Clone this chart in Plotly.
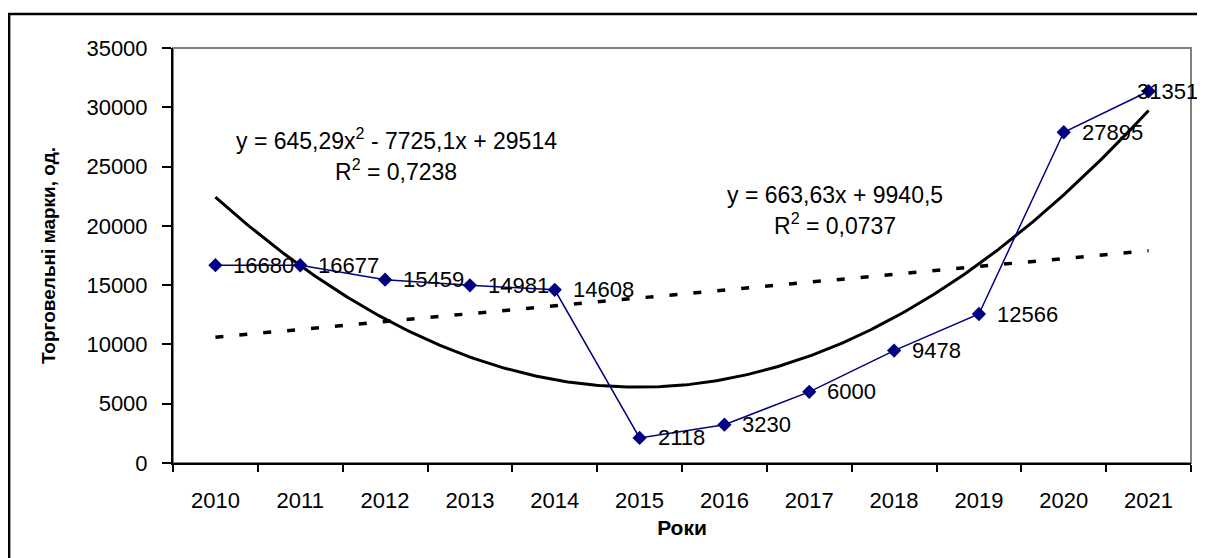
import numpy as np
import plotly.graph_objects as go

years = ["2010", "2011", "2012", "2013", "2014", "2015", "2016", "2017", "2018", "2019", "2020", "2021"]
values = [16680, 16677, 15459, 14981, 14608, 2118, 3230, 6000, 9478, 12566, 27895, 31351]
poly_label = ["y = 645,29x<sup>2</sup> - 7725,1x + 29514", "R<sup>2</sup> = 0,7238"]
lin_label = ["y = 663,63x + 9940,5", "R<sup>2</sup> = 0,0737"]

FONT = "Liberation Sans, Arial, sans-serif"
x = np.arange(1, len(values) + 1)
xf = np.linspace(1, len(values), 300)
p2 = np.polyfit(x, values, 2)
p1 = np.polyfit(x, values, 1)

fig = go.Figure()
fig.add_trace(go.Scatter(x=xf, y=np.polyval(p2, xf), mode="lines",
                         line=dict(color="black", width=3), hoverinfo="skip"))
fig.add_trace(go.Scatter(x=xf, y=np.polyval(p1, xf), mode="lines",
                         line=dict(color="black", width=3.5, dash="8px,16px"), hoverinfo="skip"))
fig.add_trace(go.Scatter(x=x, y=values, mode="lines+markers",
                         line=dict(color="#000080", width=1.5),
                         marker=dict(symbol="diamond", size=11, color="#000080")))

# data labels to the right of each point (last one pulled back to stay in frame)
for i, v in enumerate(values):
    last = i == len(values) - 1
    fig.add_annotation(x=x[i], y=v, text=str(v), showarrow=False, xanchor="left",
                       xshift=-14 if last else 16,
                       font=dict(family=FONT, size=22, color="black"))

# plot-area border (gray) and outer chart frame
fig.add_shape(type="rect", xref="paper", yref="paper", x0=0, x1=1, y0=0, y1=1,
              line=dict(color="#808080", width=2), layer="below")
fig.add_shape(type="rect", xref="paper", yref="paper", x0=-0.161, x1=1.2, y0=-0.4, y1=1.082,
              line=dict(color="black", width=2.5), layer="below")

ann = dict(xref="paper", yref="paper", showarrow=False, xanchor="center", yanchor="middle",
           font=dict(family=FONT, size=23, color="black"))
fig.add_annotation(text=poly_label[0], x=(396 - 173) / 1018, y=(463 - 139) / 415, **ann)
fig.add_annotation(text=poly_label[1], x=(396 - 173) / 1018, y=(463 - 170) / 415, **ann)
fig.add_annotation(text=lin_label[0], x=(835 - 173) / 1018, y=(463 - 195) / 415, **ann)
fig.add_annotation(text=lin_label[1], x=(835 - 173) / 1018, y=(463 - 224) / 415, **ann)

fig.update_layout(
    width=1197, height=550,
    margin=dict(l=165, r=14, t=40, b=95),
    paper_bgcolor="white", plot_bgcolor="white",
    showlegend=False,
    font=dict(family=FONT, size=22, color="black"),
    xaxis=dict(range=[0.5, 12.5], tickmode="array", tickvals=list(x), ticktext=years,
               ticks="", showgrid=False, zeroline=False,
               showline=True, linecolor="black", linewidth=2,
               ticklabelstandoff=17,
               minor=dict(tick0=0.5, dtick=1, ticks="outside", ticklen=7,
                          tickwidth=2, tickcolor="black", showgrid=False),
               title=dict(text="<b>Роки</b>", font=dict(family=FONT, size=21), standoff=8),
               tickfont=dict(family=FONT, size=22)),
    yaxis=dict(range=[0, 35000], dtick=5000, tickformat="d", ticks="outside", ticklen=9, tickwidth=2,
               tickcolor="black", showgrid=False, zeroline=False,
               showline=True, linecolor="black", linewidth=2,
               ticklabelstandoff=10,
               title=dict(text="<b>Торговельні марки, од.</b>", font=dict(family=FONT, size=19), standoff=26),
               tickfont=dict(family=FONT, size=22)),
)
fig.write_html("out.html")
